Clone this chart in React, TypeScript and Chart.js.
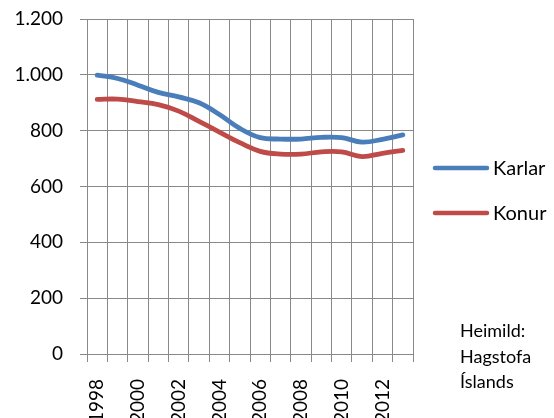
import React, { useEffect, useRef } from "react";
import { Chart, registerables } from "chart.js";

Chart.register(...registerables);

const years = ["1998","1999","2000","2001","2002","2003","2004","2005","2006","2007","2008","2009","2010","2011","2012","2013"];
const karlar = [999, 987, 963, 937, 921, 900, 858, 808, 775, 770, 770, 776, 775, 759, 769, 785];
const konur = [912, 913, 904, 893, 870, 833, 795, 757, 726, 716, 716, 724, 724, 707, 719, 729];
const seriesNames = ["Karlar", "Konur"];
const sourceLines = ["Heimild:", "Hagstofa", "Íslands"];

const BLUE = "#4a7ebb";
const RED = "#be4b48";
const GRID = "#898989";
const FONT = "Lato";

const legendPlugin = {
  id: "customLegend",
  afterDraw(chart: any) {
    const ctx = chart.ctx;
    ctx.save();
    const ys = [168, 213];
    chart.data.datasets.forEach((ds: any, i: number) => {
      const y = ys[i];
      ctx.strokeStyle = ds.borderColor;
      ctx.lineWidth = 4.5;
      ctx.lineCap = "round";
      ctx.beginPath();
      ctx.moveTo(435, y);
      ctx.lineTo(487, y);
      ctx.stroke();
      ctx.fillStyle = "#000";
      ctx.font = `20px ${FONT}`;
      ctx.textBaseline = "middle";
      ctx.textAlign = "left";
      ctx.fillText(ds.label, 493, y + 1);
    });
    ctx.font = `18px ${FONT}`;
    ctx.textBaseline = "alphabetic";
    ctx.fillStyle = "#000";
    sourceLines.forEach((t, i) => {
      ctx.fillText(t, 460, 337 + i * 25.5);
    });
    ctx.restore();
  },
};

export default function App() {
  const ref = useRef<HTMLCanvasElement | null>(null);
  useEffect(() => {
    if (!ref.current) return;
    const chart = new Chart(ref.current, {
      type: "line",
      data: {
        labels: years,
        datasets: [
          { label: seriesNames[0], data: karlar, borderColor: BLUE, backgroundColor: BLUE, borderWidth: 4.8, pointRadius: 0, tension: 0.4, borderCapStyle: "round", borderJoinStyle: "round" },
          { label: seriesNames[1], data: konur, borderColor: RED, backgroundColor: RED, borderWidth: 4.8, pointRadius: 0, tension: 0.4, borderCapStyle: "round", borderJoinStyle: "round" },
        ],
      },
      options: {
        animation: false,
        responsive: false,
        devicePixelRatio: 1,
        layout: { padding: { left: 0, right: 141, top: 19, bottom: 0 } },
        plugins: { legend: { display: false }, tooltip: { enabled: false } },
        scales: {
          x: {
            type: "category",
            offset: true,
            grid: { offset: true, color: GRID, lineWidth: 1, tickLength: 8, tickColor: GRID },
            border: { color: GRID, width: 1 },
            ticks: {
              autoSkip: false,
              maxRotation: 90,
              minRotation: 90,
              padding: 17,
              color: "#000",
              font: { family: FONT, size: 19 },
              callback: function (this: any, v: any, i: number) {
                return i % 2 === 0 ? years[i] : "";
              },
            },
            afterFit(scale: any) { scale.height = 64; },
          },
          y: {
            min: 0,
            max: 1200,
            grid: { color: GRID, lineWidth: 1, tickLength: 7, tickColor: GRID },
            border: { color: GRID, width: 1 },
            ticks: {
              stepSize: 200,
              padding: 17,
              color: "#000",
              font: { family: FONT, size: 19 },
              callback: (v: any) => String(v).replace(/\B(?=(\d{3})+(?!\d))/g, "."),
            },
            afterFit(scale: any) {
              scale.width = 87;
              scale.paddingTop = 0;
              scale.paddingBottom = 0;
            },
          },
        },
      },
      plugins: [legendPlugin],
    } as any);
    return () => chart.destroy();
  }, []);
  return (
    <div style={{ position: "fixed", left: 0, top: 0, width: 554, height: 418, background: "#fff" }}>
      <canvas ref={ref} width={554} height={418} style={{ width: 554, height: 418, display: "block" }} />
    </div>
  );
}
